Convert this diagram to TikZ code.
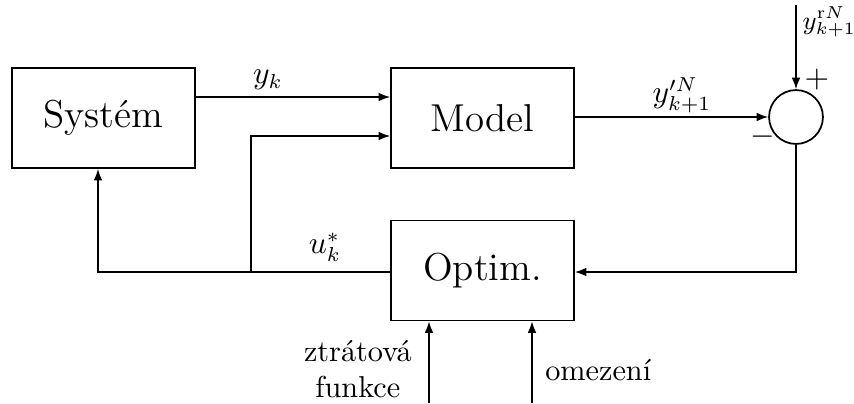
\documentclass[tikz,border=0pt]{standalone}
\usepackage{amsmath,amssymb}
\usetikzlibrary{arrows.meta}
\tikzset{blok/.style={draw,line width=0.6pt,minimum width=63.5pt,minimum height=34.7pt,font=\fontsize{13.5}{16}\selectfont}}
\begin{document}
\begin{tikzpicture}[x=0.347pt,y=-0.347pt,line width=0.5pt,font=\fontsize{10.5}{12.5}\selectfont,>={Latex[length=4pt,width=3pt]}]
\useasboundingbox (0,0) rectangle (854,403);
\node[blok] (sys) at (103.5,118) {Systém};
\node[blok] (model) at (482.5,118) {Model};
\node[blok] (optim) at (482.5,270.5) {Optim.};
\node[draw,line width=0.6pt,circle,minimum size=18.7pt,inner sep=0pt] (sum) at (796,117) {};
\coordinate (ref) at (794,5);
\coordinate (split) at (251,272);
\coordinate (fb) at (98,272);
\coordinate (yklev) at (0,97);
\coordinate (uklev) at (0,136);
\coordinate (loss) at (429,403);
\coordinate (cons) at (532,403);
\draw[->] (sys.east |- yklev) -- (model.west |- yklev);
\draw[->] (model.east |- sum) -- (sum.west);
\draw[->] (ref -| sum) -- (sum.north);
\draw[->] (sum.south) |- (optim.east |- fb);
\draw[->] (optim.west |- fb) -- (fb) -- (fb |- sys.south);
\draw[->] (split) |- (model.west |- uklev);
\draw[->] (loss) -- (loss |- optim.south);
\draw[->] (cons) -- (cons |- optim.south);
\node (yk) at (268,80) {$y_k$};
\node (ypred) at (682,95) {$y'^{N}_{k+1}$};
\node (uk) at (325,247) {$u_k^*$};
\node[anchor=west,inner sep=0pt,font=\fontsize{9}{11}\selectfont] (yref) at (802,22) {$y^{\mathrm{r}N}_{k+1}$};
\node (plus) at (817,80) {$+$};
\node (minus) at (763,137) {$-$};
\node[align=center,anchor=east] (losslbl) at (422,369) {ztrátová\\funkce};
\node[anchor=west] (conslbl) at (535,370) {omezení};
\end{tikzpicture}
\end{document}
